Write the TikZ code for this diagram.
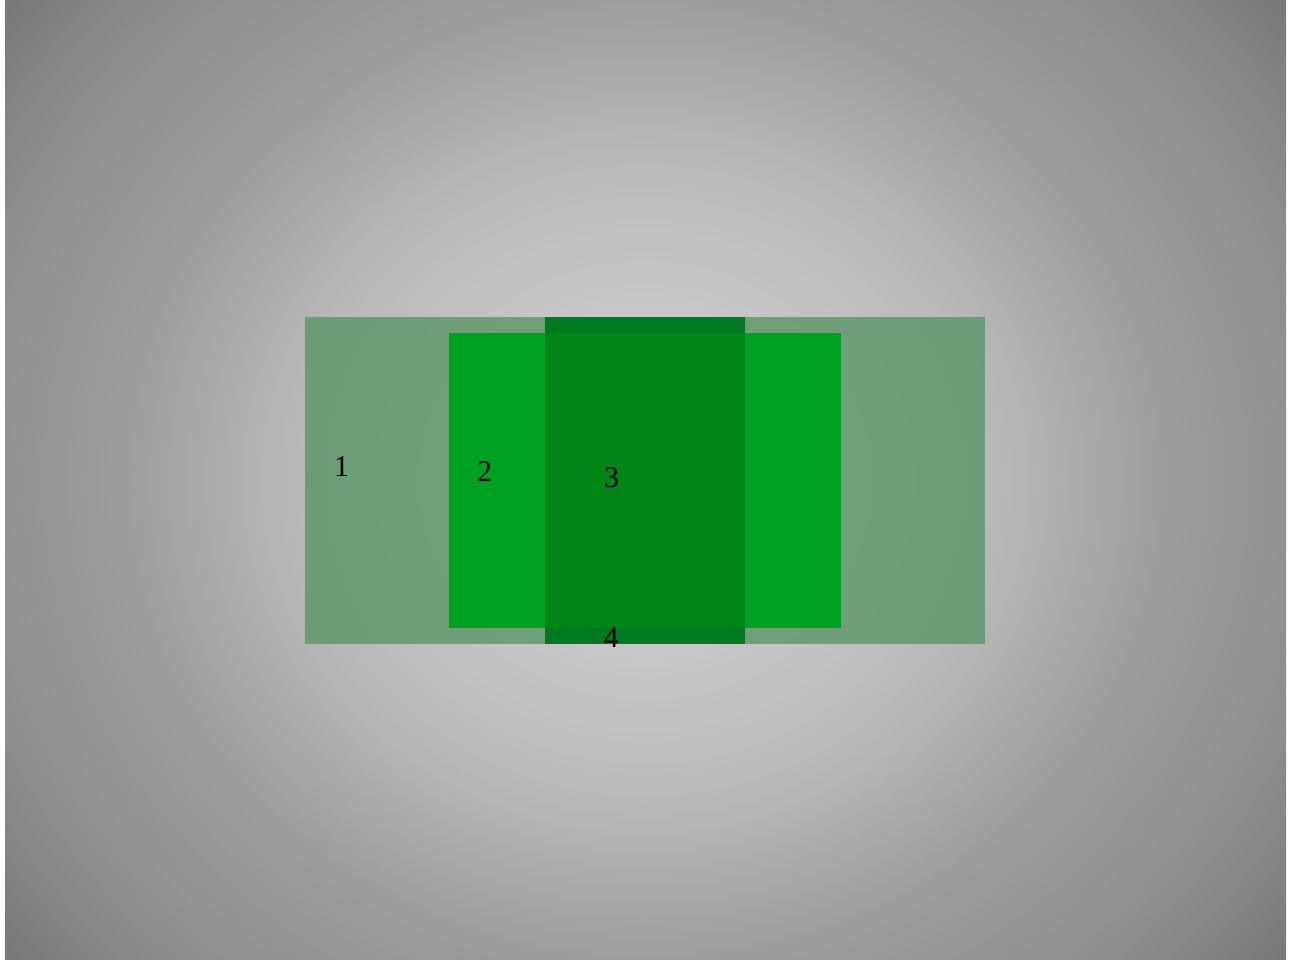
\documentclass[tikz,border=0pt]{standalone}
\usepackage{fontspec}
\setmainfont{Liberation Serif}
\definecolor{bgA}{RGB}{203,203,203}
\definecolor{bgB}{RGB}{200,200,200}
\definecolor{bgC}{RGB}{185,185,185}
\definecolor{bgD}{RGB}{157,157,157}
\definecolor{bgE}{RGB}{141,141,141}
\definecolor{bgF}{RGB}{113,113,113}
\definecolor{outerband}{RGB}{84,148,97}
\definecolor{innerband}{RGB}{0,160,34}
\definecolor{coreband}{RGB}{0,121,32}
\definecolor{coremid}{RGB}{0,133,22}
\pgfdeclareradialshading{bgshade}{\pgfpoint{0bp}{0bp}}{%
  color(0bp)=(bgA); color(160bp)=(bgB); color(320bp)=(bgC);
  color(480bp)=(bgD); color(640bp)=(bgE); color(800bp)=(bgF); color(820bp)=(bgF)}
\tikzset{
  lbl/.style={inner sep=0pt, font=\fontsize{30}{36}\selectfont, text=black}
}
\begin{document}
\begin{tikzpicture}[x=1pt,y=-1pt]
\useasboundingbox (0,0) rectangle (1289,960);
\fill[white] (0,0) rectangle (1289,960);
\begin{scope}
  \clip (5,1) rectangle (1286,960);
  \node[inner sep=0pt, outer sep=0pt, xscale=1.08] (bg) at (645,480) {\pgfuseshading{bgshade}};
\end{scope}
% outer band 1
\fill[outerband, fill opacity=0.75] (305,317) rectangle (985,644);
% inner band 2
\fill[innerband] (449,333) rectangle (841,628);
% core band 3
\fill[coreband] (545,317) rectangle (745,644);
\fill[coremid] (545,333) rectangle (745,628);
% labels
\node[lbl] (l1) at (341.5,466.5) {1};
\node[lbl] (l2) at (484.5,472) {2};
\node[lbl] (l3) at (611.5,477.5) {3};
\node[lbl] (l4) at (611,637.5) {4};
\end{tikzpicture}
\end{document}
